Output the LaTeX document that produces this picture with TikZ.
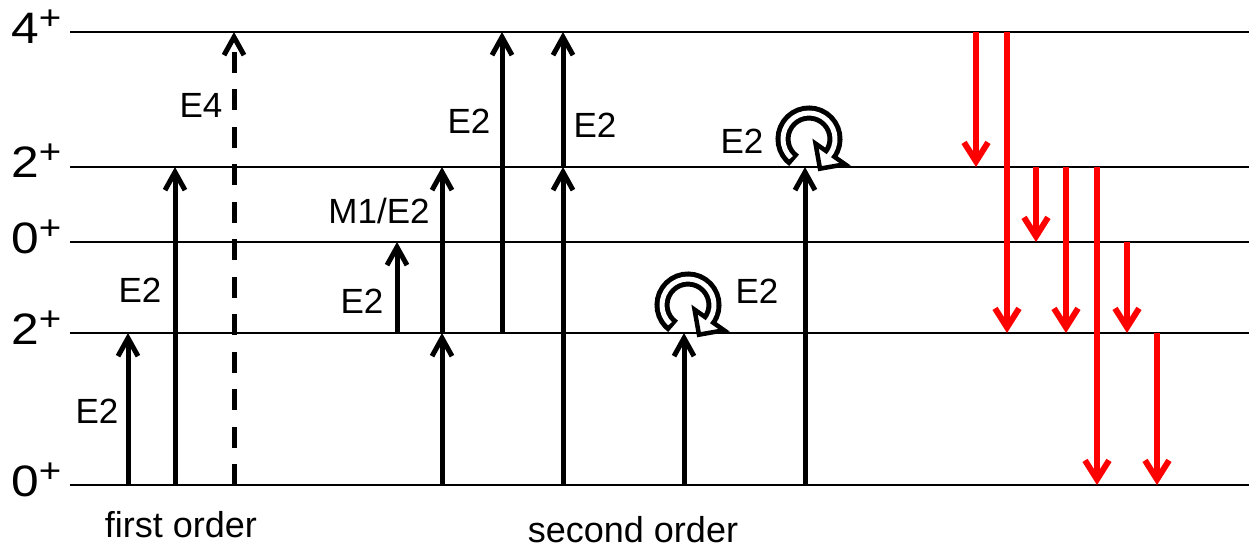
\documentclass[tikz,border=0pt]{standalone}
\usepackage{graphicx}
\usepackage{fontspec}
\setmainfont{Liberation Sans}
\usetikzlibrary{arrows.meta}

\tikzset{
  level/.style={line width=2pt},
  up/.style={line width=5pt, -{Straight Barb[length=18pt,width=20pt]}},
  emit/.style={red, line width=6pt, -{Straight Barb[length=19pt,width=24pt]}},
  lbl/.style={font=\fontsize{35}{40}\selectfont, inner sep=0pt},
  captext/.style={font=\fontsize{36}{40}\selectfont, inner sep=0pt, anchor=base},
  lvl/.style={font=\fontsize{44}{48}\selectfont, inner sep=0pt, anchor=base west},
  % outlined circular arrow (self transition)
  ringarrow/.pic={
    \begin{scope}[yscale=-1, rotate=35]
      \draw[line width=15pt] (270:26) arc[start angle=270, end angle=0, radius=26];
      \draw[line width=4.5pt, fill=white, line join=miter] (44,0) -- (8,0) -- (26,-18) -- cycle;
      \draw[line width=5pt, white] (261:26) arc[start angle=261, end angle=-6, radius=26];
    \end{scope}
  }
}
% spin-parity label: stretched digit with a raised plus
\newcommand\lvtext[1]{\scalebox{1.13}[1]{#1\raisebox{14pt}{\fontsize{34}{34}\selectfont +}}}

\begin{document}
\begin{tikzpicture}[x=1pt, y=-1pt]
  \useasboundingbox (0,0) rectangle (1249,550);

  % level energies
  \coordinate (L4)  at (70,32);
  \coordinate (L2u) at (70,167);
  \coordinate (L0u) at (70,242);
  \coordinate (L2)  at (70,333);
  \coordinate (L0)  at (70,485);
  \coordinate (R)   at (1249,0);

  % transition columns
  \coordinate (c1) at (128,0);
  \coordinate (c2) at (175,0);
  \coordinate (c3) at (234,0);
  \coordinate (c4) at (397,0);
  \coordinate (c5) at (442,0);
  \coordinate (c6) at (502,0);
  \coordinate (c7) at (563,0);
  \coordinate (c8) at (684,0);
  \coordinate (c9) at (805,0);
  \coordinate (r1) at (976,0);
  \coordinate (r2) at (1007,0);
  \coordinate (r3) at (1036,0);
  \coordinate (r4) at (1066,0);
  \coordinate (r5) at (1097,0);
  \coordinate (r6) at (1127,0);
  \coordinate (r7) at (1157,0);

  % level lines
  \foreach \l in {L4,L2u,L0u,L2,L0}
    \draw[level] (\l) -- (\l -| R);

  % level labels
  \node[lvl] (t4)  at (11,43)  {\lvtext{4}};
  \node[lvl] (t2u) at (11,177) {\lvtext{2}};
  \node[lvl] (t0u) at (11,253) {\lvtext{0}};
  \node[lvl] (t2)  at (11,344) {\lvtext{2}};
  \node[lvl] (t0)  at (11,496) {\lvtext{0}};

  % first order excitations
  \draw[up] (c1 |- L0) -- (c1 |- L2);
  \draw[up] (c2 |- L0) -- (c2 |- L2u);
  \draw[up, dash pattern=on 21pt off 16.5pt] (c3 |- L0) -- (c3 |- L4);

  % second order excitations
  \draw[up] (c4 |- L2) -- (c4 |- L0u);
  \draw[up] (c5 |- L0) -- (c5 |- L2);
  \draw[up] (c5 |- L2) -- (c5 |- L2u);
  \draw[up] (c6 |- L2) -- (c6 |- L4);
  \draw[up] (c7 |- L0) -- (c7 |- L2u);
  \draw[up] (c7 |- L2u) -- (c7 |- L4);
  \draw[up] (c8 |- L0) -- (c8 |- L2);
  \draw[up] (c9 |- L0) -- (c9 |- L2u);

  % reorientation loops
  \pic at (688,305) {ringarrow};
  \pic at (809,139) {ringarrow};

  % gamma decays
  \draw[emit] (r1 |- L4)  -- (r1 |- L2u);
  \draw[emit] (r2 |- L4)  -- (r2 |- L2);
  \draw[emit] (r3 |- L2u) -- (r3 |- L0u);
  \draw[emit] (r4 |- L2u) -- (r4 |- L2);
  \draw[emit] (r5 |- L2u) -- (r5 |- L0);
  \draw[emit] (r6 |- L0u) -- (r6 |- L2);
  \draw[emit] (r7 |- L2)  -- (r7 |- L0);

  % multipolarity labels
  \node[lbl] (m1) at (97,411)  {E2};
  \node[lbl] (m2) at (140,290) {E2};
  \node[lbl] (m3) at (201,105) {E4};
  \node[lbl] (m4) at (379,211) {M1/E2};
  \node[lbl] (m5) at (362,301) {E2};
  \node[lbl] (m6) at (469,121) {E2};
  \node[lbl] (m7) at (595,125) {E2};
  \node[lbl] (m8) at (757,291) {E2};
  \node[lbl] (m9) at (742,141) {E2};

  % captions
  \node[captext] (first)  at (181,537) {first order};
  \node[captext] (second) at (633,542) {second order};
\end{tikzpicture}
\end{document}
